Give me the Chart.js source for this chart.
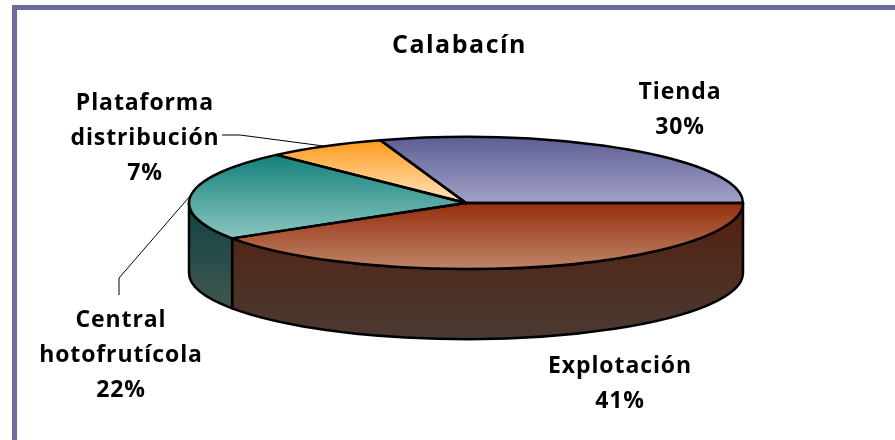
<!DOCTYPE html>
<html><head><meta charset="utf-8">
<style>
html,body{margin:0;padding:0;background:#fff;width:895px;height:440px;overflow:hidden}
#frame{position:absolute;left:12px;top:5px;right:0;bottom:0;border-left:5px solid #6b6b9f;border-top:5px solid #6b6b9f}
#c{position:absolute;left:0;top:0}
</style>
<script src="https://cdn.jsdelivr.net/npm/chart.js@4"></script>
</head><body>
<div id="frame"></div>
<canvas id="c" width="895" height="440"></canvas>
<script>
const titleText = 'Calabacín';
const categories = ['Tienda', 'Explotación', 'Central hotofrutícola', 'Plataforma distribución'];
const values = [30, 41, 22, 7];
const labelLines = [['Tienda','30%'],['Explotación','41%'],['Central','hotofrutícola','22%'],['Plataforma','distribución','7%']];
const labelCenters = [[680,92],[620,366],[121,320],[145,103]];
const topColors = ['#5e5e96','#962f0e','#14807a','#ff9a1c'];
const bottomColors = ['#a2a2c6','#c08468','#8ac6c0','#ffe6bf'];
const wallTop = ['#3a3a5c','#541f0e','#0e4244','#7a4a10'];
const wallBottom = ['#4a4a5c','#4a3a32','#44564f','#5a4a30'];
const leaders = {2:[[119,278],[119,295]], 3:[[240,135],[222,135]]};
const font = '700 23px "Open Sans"';
const geo = {cx:466, cy:203, rx:277, ry:66, depth:70};
const rotationDeg = -18;

const total = values.reduce((a,b)=>a+b,0);
function yExtent(i){
  let a = rotationDeg; for(let k=0;k<i;k++) a += values[k]/total*360;
  const b = a + values[i]/total*360;
  let ys=[0,-Math.cos(a*Math.PI/180),-Math.cos(b*Math.PI/180)];
  for(let t=-360;t<=720;t+=180){ if(t>a&&t<b) ys.push(-Math.cos(t*Math.PI/180)); }
  return [Math.min(...ys),Math.max(...ys)];
}
function fillFor(c){
  const chart=c.chart, i=c.dataIndex, area=chart.chartArea;
  if(!area) return topColors[i];
  const R=Math.min(area.width,area.height)/2, my=(area.top+area.bottom)/2;
  const [a,b]=yExtent(i);
  const g=chart.ctx.createLinearGradient(0,my+a*R,0,my+b*R);
  g.addColorStop(0,topColors[i]); g.addColorStop(1,bottomColors[i]);
  return g;
}
const tilt = {
  id:'tilt',
  beforeDraw(chart){ chart.ctx.letterSpacing='1.5px'; },
  beforeDatasetsDraw(chart){
    const ctx=chart.ctx, arcs=chart.getDatasetMeta(0).data, p0=arcs[0];
    const R=p0.outerRadius, sx=geo.rx/R, sy=geo.ry/R;
    ctx.save();
    ctx.lineJoin='round';
    arcs.forEach((arc,i)=>{
      const s=Math.max(arc.startAngle,0), e=Math.min(arc.endAngle,Math.PI);
      if(e<=s) return;
      ctx.beginPath();
      ctx.ellipse(geo.cx,geo.cy,geo.rx,geo.ry,0,s,e);
      ctx.ellipse(geo.cx,geo.cy+geo.depth,geo.rx,geo.ry,0,e,s,true);
      ctx.closePath();
      const mid=(s<=Math.PI/2&&e>=Math.PI/2)?1:Math.max(Math.sin(s),Math.sin(e));
      const g=ctx.createLinearGradient(0,geo.cy,0,geo.cy+geo.depth+geo.ry*mid);
      g.addColorStop(0,wallTop[i]); g.addColorStop(1,wallBottom[i]);
      ctx.fillStyle=g; ctx.fill();
      ctx.strokeStyle='#000'; ctx.lineWidth=2.5; ctx.stroke();
    });
    ctx.restore();
    ctx.save();
    ctx.strokeStyle='#000'; ctx.lineWidth=1;
    Object.keys(leaders).forEach(k=>{
      const arc=arcs[k], m=(arc.startAngle+arc.endAngle)/2;
      ctx.beginPath();
      ctx.moveTo(geo.cx+Math.cos(m)*geo.rx,geo.cy+Math.sin(m)*geo.ry);
      leaders[k].forEach(pt=>ctx.lineTo(pt[0],pt[1]));
      ctx.stroke();
    });
    ctx.restore();
    ctx.save();
    ctx.translate(geo.cx,geo.cy); ctx.scale(sx,sy); ctx.translate(-p0.x,-p0.y);
  },
  afterDatasetsDraw(chart){
    const ctx=chart.ctx, arcs=chart.getDatasetMeta(0).data;
    ctx.restore();
    ctx.save();
    ctx.strokeStyle='#000'; ctx.lineWidth=2.5; ctx.lineJoin='round';
    arcs.forEach(arc=>{
      ctx.beginPath();
      ctx.moveTo(geo.cx,geo.cy);
      ctx.ellipse(geo.cx,geo.cy,geo.rx,geo.ry,0,arc.startAngle,arc.endAngle);
      ctx.closePath(); ctx.stroke();
    });
    ctx.restore();
    ctx.save();
    ctx.font=font; ctx.fillStyle='#000'; ctx.textAlign='center'; ctx.textBaseline='middle';
    ctx.letterSpacing='0.9px';
    labelLines.forEach((lines,i)=>{
      lines.forEach((t,j)=>ctx.fillText(t,labelCenters[i][0],labelCenters[i][1]+j*35));
    });
    ctx.restore();
  }
};
new Chart(document.getElementById('c'),{
  type:'pie',
  data:{labels:categories,datasets:[{data:values,backgroundColor:fillFor,borderWidth:0}]},
  options:{
    responsive:false,animation:false,rotation:rotationDeg,
    layout:{padding:{left:24}},
    plugins:{
      legend:{display:false},tooltip:{enabled:false},
      title:{display:true,text:titleText,color:'#000',font:{family:'"Open Sans"',size:25,weight:'700'},padding:{top:31,bottom:10}}
    }
  },
  plugins:[tilt]
});
</script>
</body></html>
